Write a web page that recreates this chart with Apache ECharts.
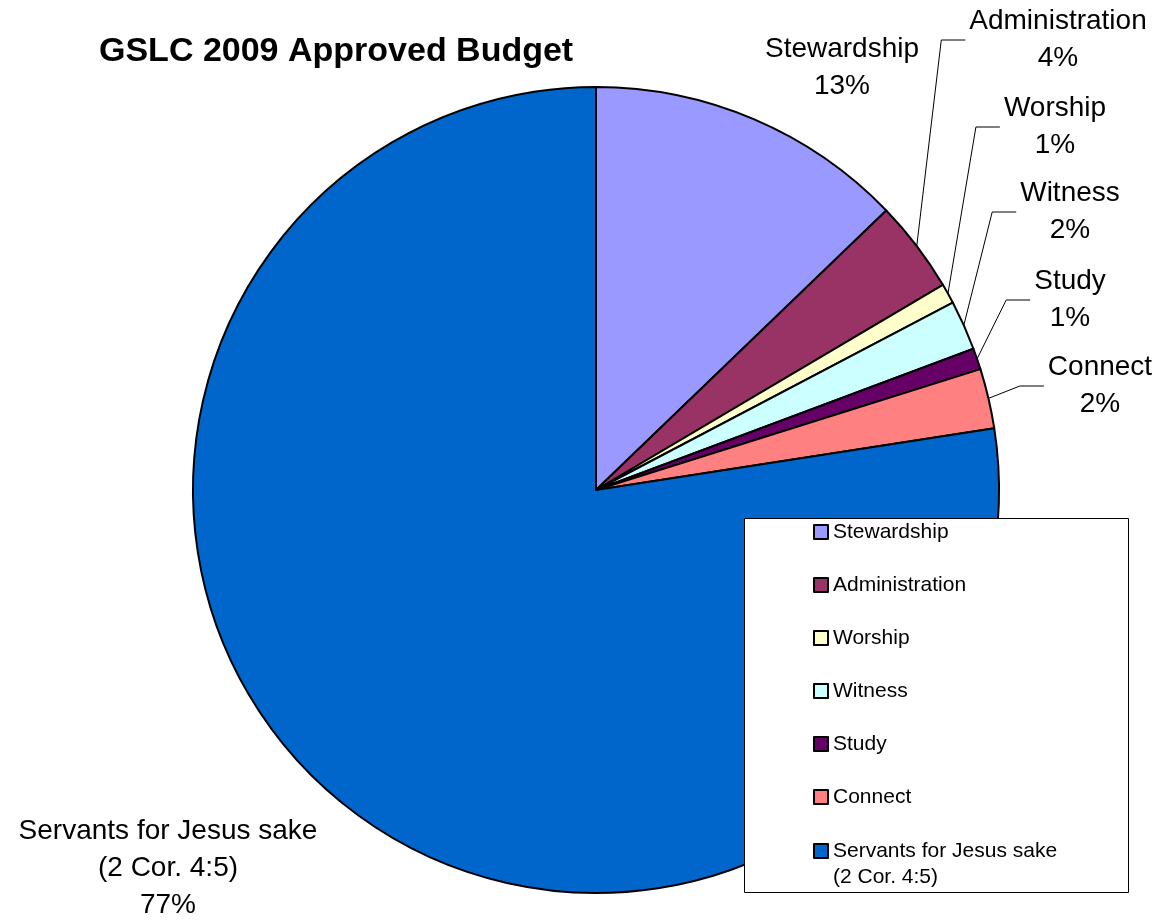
<!DOCTYPE html>
<html>
<head>
<meta charset="utf-8">
<script src="https://cdn.jsdelivr.net/npm/echarts@6/dist/echarts.min.js"></script>
<style>
html, body { margin: 0; padding: 0; background: #fff; }
#main { width: 1163px; height: 923px; }
</style>
</head>
<body>
<div id="main"></div>
<script>
var categories = ['Stewardship', 'Administration', 'Worship', 'Witness', 'Study', 'Connect', 'Servants for Jesus sake\n(2 Cor. 4:5)'];
var shares = [12.8, 3.7, 0.8, 2.0, 0.85, 2.4, 77.45];
var colors = ['#9999FF', '#993366', '#FFFFCC', '#CCFFFF', '#660066', '#FF8080', '#0066CC'];
// label centres (Excel-style placement)
var labelPos = [[842, 68], [1058, 40], [1055, 127], [1070, 212], [1070, 300], [1100, 386], [168, 868]];
var hasLeader = [false, true, true, true, true, true, false];

var total = shares.reduce(function (a, b) { return a + b; }, 0);
var legendFont = { fontFamily: 'Liberation Sans', fontSize: 21, lineHeight: 26, color: '#000' };

var myChart = echarts.init(document.getElementById('main'));
var option = {
    animation: false,
    title: {
        text: 'GSLC 2009 Approved Budget',
        left: 99,
        top: 35,
        padding: 0,
        textStyle: { fontFamily: 'Liberation Sans', fontSize: 34, fontWeight: 'bold', color: '#000' }
    },
    graphic: [{
        type: 'rect',
        z: 3,
        shape: { x: 744.5, y: 518.5, width: 384, height: 374 },
        style: { fill: '#fff', stroke: '#000', lineWidth: 1 }
    }],
    legend: [{
        orient: 'vertical',
        left: 813,
        top: 519,
        padding: 0,
        z: 5,
        itemWidth: 14,
        itemHeight: 14,
        itemGap: 27,
        icon: 'rect',
        data: categories.slice(0, 6),
        textStyle: legendFont
    }, {
        // two-line item: blank first line keeps the icon beside the first text line
        orient: 'vertical',
        left: 813,
        top: 812,
        padding: 0,
        z: 5,
        itemWidth: 14,
        itemHeight: 14,
        icon: 'rect',
        data: categories.slice(6),
        formatter: function (name) { return ' \n' + name; },
        textStyle: legendFont
    }],
    series: [{
        type: 'pie',
        center: [596, 490],
        radius: [0, 403],
        startAngle: 90,
        clockwise: true,
        avoidLabelOverlap: false,
        itemStyle: { borderColor: '#000', borderWidth: 2 },
        emphasis: { disabled: true },
        label: {
            show: true,
            position: 'outside',
            fontFamily: 'Liberation Sans',
            fontSize: 28,
            lineHeight: 37,
            color: '#000',
            align: 'center',
            formatter: function (p) {
                return p.name + '\n' + Math.round(p.value / total * 100) + '%';
            }
        },
        labelLine: { show: true, length: 10, length2: 10, lineStyle: { color: '#000', width: 1 } },
        labelLayout: function (params) {
            var i = params.dataIndex;
            var pos = labelPos[i];
            var out = { x: pos[0], y: pos[1], align: 'center', verticalAlign: 'middle' };
            if (hasLeader[i] && params.labelLinePoints) {
                var start = params.labelLinePoints[0];
                var endX = pos[0] - params.labelRect.width / 2 - 4;
                out.labelLinePoints = [start, [endX - 24, pos[1]], [endX, pos[1]]];
            }
            return out;
        },
        data: categories.map(function (name, i) {
            return {
                name: name,
                value: shares[i],
                itemStyle: { color: colors[i] },
                labelLine: { show: hasLeader[i] }
            };
        })
    }]
};
myChart.setOption(option);
</script>
</body>
</html>
